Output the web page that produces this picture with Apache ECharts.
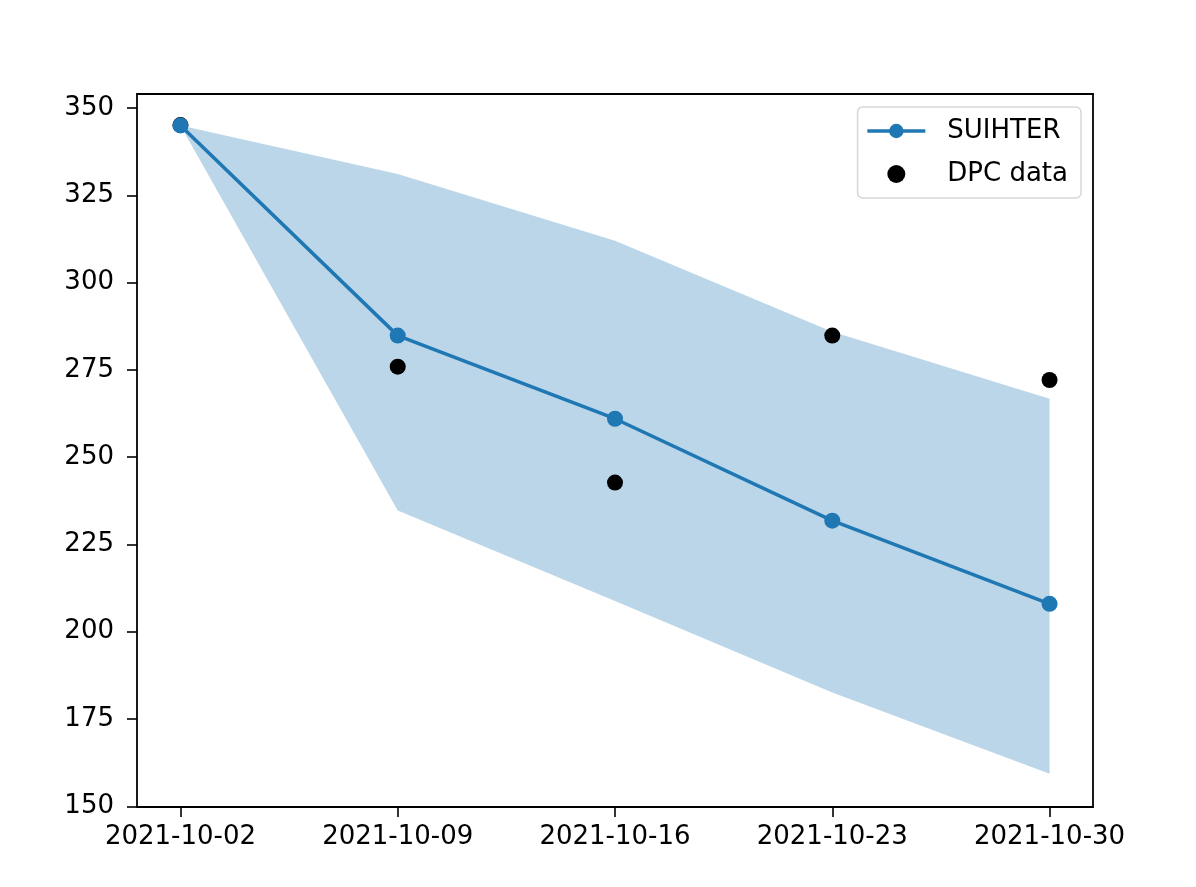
<!DOCTYPE html>
<html>
<head>
<meta charset="utf-8">
<script src="https://cdn.jsdelivr.net/npm/echarts@6/dist/echarts.min.js"></script>
<style>
  html, body { margin: 0; padding: 0; background: #fff; }
  #chart { width: 1196px; height: 887px; }
</style>
</head>
<body>
<div id="chart"></div>
<script>
const dates = ['2021-10-02', '2021-10-09', '2021-10-16', '2021-10-23', '2021-10-30'];
const suihter = [345, 284.8, 261, 231.8, 208];
const dpcData = [345.1, 275.9, 242.7, 284.8, 272.1];
const bandUpper = [345, 331.1, 312, 285.9, 266.7];
const bandLower = [345, 234.7, 208.8, 182.6, 159.3];
const yTicks = [150, 175, 200, 225, 250, 275, 300, 325, 350];

// days since the first date, used as the x coordinate
function dayNum(d) {
    const p = d.split('-');
    return Math.round(Date.UTC(+p[0], +p[1] - 1, +p[2]) / 86400000);
}
const xs = dates.map(d => dayNum(d) - dayNum(dates[0]));
const xMin = xs[0] - 1.4;
const xMax = xs[xs.length - 1] + 1.4;

const blue = '#1f77b4';
const font = 'DejaVu Sans';

const frameAxis = {
    type: 'value', min: 0, max: 1,
    axisLine: {show: true, onZero: false, lineStyle: {color: '#000', width: 1.8}},
    axisTick: {show: false}, axisLabel: {show: false}, splitLine: {show: false}
};

// filled band between lower and upper bounds
function renderBand(params, api) {
    if (params.dataIndex !== 0) {
        return null;
    }
    const pts = [];
    for (let i = 0; i < xs.length; i++) {
        pts.push(api.coord([xs[i], bandUpper[i]]));
    }
    for (let i = xs.length - 1; i >= 0; i--) {
        pts.push(api.coord([xs[i], bandLower[i]]));
    }
    return {
        type: 'polygon',
        shape: {points: pts},
        style: {fill: blue, opacity: 0.3}
    };
}

const myChart = echarts.init(document.getElementById('chart'));
const option = {
    animation: false,
    backgroundColor: '#fff',
    textStyle: {fontFamily: font},
    grid: {left: 137, right: 103, top: 94, bottom: 80, show: false},
    legend: {
        orient: 'vertical',
        right: 115,
        top: 107,
        itemWidth: 58,
        itemHeight: 18,
        itemGap: 17,
        padding: [11, 13, 11, 8],
        backgroundColor: '#fff',
        borderColor: '#d6d6d6',
        borderWidth: 1.5,
        borderRadius: 5,
        align: 'left',
        textStyle: {fontSize: 26, color: '#000', fontFamily: font, padding: [0, 0, 0, 17]},
        data: [
            {name: 'SUIHTER', lineStyle: {width: 3.5, color: blue}, itemStyle: {color: blue}},
            {name: 'DPC data', icon: 'circle', itemStyle: {color: '#000'}}
        ]
    },
    xAxis: [{
        type: 'value',
        min: xMin,
        max: xMax,
        splitLine: {show: false},
        axisLine: {onZero: false, lineStyle: {color: '#000', width: 1.8}},
        axisTick: {show: true, length: 10, lineStyle: {color: '#000', width: 1.6}, customValues: xs},
        axisLabel: {
            fontSize: 26,
            color: '#000',
            margin: 17,
            customValues: xs,
            formatter: function (v) {
                const i = xs.indexOf(Math.round(v));
                return i >= 0 ? dates[i] : '';
            }
        }
    }, Object.assign({position: 'top'}, frameAxis)],
    yAxis: [{
        type: 'value',
        min: 149.8,
        max: 354,
        splitLine: {show: false},
        axisLine: {show: true, onZero: false, lineStyle: {color: '#000', width: 1.8}},
        axisTick: {show: true, length: 10, lineStyle: {color: '#000', width: 1.6}, customValues: yTicks},
        axisLabel: {fontSize: 26, color: '#000', margin: 23, customValues: yTicks}
    }, Object.assign({position: 'right'}, frameAxis)],
    series: [
        {
            name: 'band',
            type: 'custom',
            renderItem: renderBand,
            data: xs.map((x, i) => [x, bandLower[i], bandUpper[i]]),
            encode: {x: 0, y: [1, 2]},
            silent: true,
            z: 1
        },
        {
            name: 'DPC data',
            type: 'scatter',
            data: xs.map((x, i) => [x, dpcData[i]]),
            symbol: 'circle',
            symbolSize: 16,
            itemStyle: {color: '#000', opacity: 1},
            z: 2
        },
        {
            name: 'SUIHTER',
            type: 'line',
            data: xs.map((x, i) => [x, suihter[i]]),
            symbol: 'circle',
            symbolSize: 16,
            showSymbol: true,
            lineStyle: {color: blue, width: 3.5},
            itemStyle: {color: blue, borderWidth: 0},
            z: 3
        }
    ]
};
myChart.setOption(option);
</script>
</body>
</html>
